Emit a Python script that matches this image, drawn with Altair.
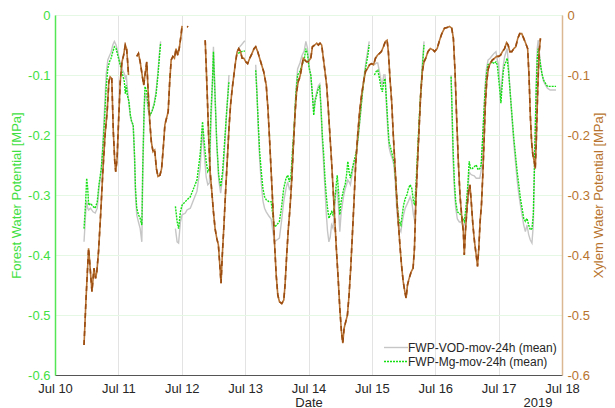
import altair as alt
import pandas as pd

# ---------------- data ----------------
# Forest water potential (FWP) segments: time in days of July 2019
fwp_t = [
    [10.458,10.484,10.5,10.516,10.531,10.56,10.6,10.635,10.667,10.693,10.73,10.755,10.78,10.807,10.833,10.86,10.885,10.912,10.937,10.964,10.99,11.016,11.042,11.068,11.094,11.11,11.125,11.14,11.167,11.19,11.21,11.234,11.255,11.27,11.29,11.317,11.344,11.37,11.385,11.406,11.42,11.448,11.474,11.5,11.53,11.563,11.594,11.625,11.65,11.667],
    [11.9,11.927,11.95,11.979,12.005,12.057,12.083,12.135,12.187,12.24,12.29,12.328,12.354,12.385,12.411,12.437,12.458,12.484,12.5,12.526,12.552,12.583,12.614,12.645,12.677,12.708,12.745],
    [12.89,12.94,12.995],
    [13.167,13.187,13.208,13.229,13.255,13.281,13.307,13.333,13.375,13.411,13.437,13.463,13.5,13.541,13.573,13.609,13.646,13.672,13.698,13.724,13.75,13.776,13.8,13.828,13.865,13.896,13.932,13.958,13.984,14.01,14.036,14.062,14.083,14.104,14.13,14.156,14.177,14.198,14.218,14.24,14.26,14.28,14.3,14.322,14.343,14.364,14.385,14.406,14.432,14.453,14.474,14.494,14.515,14.536,14.557,14.578,14.6,14.62,14.64,14.661,14.682,14.703,14.729,14.755,14.78,14.807,14.833,14.859,14.885,14.91,14.937,14.958],
    [15.04,15.068,15.093,15.12,15.146,15.166,15.187,15.208,15.229,15.25,15.27,15.297,15.322,15.348,15.37,15.39,15.41,15.432,15.458,15.479,15.5,15.526,15.552,15.578,15.604,15.63,15.656,15.677,15.698,15.724,15.75,15.776,15.8,15.823],
    [16.25,16.266,16.281,16.302,16.323,16.349,16.38,16.406,16.432,16.458,16.484,16.51,16.536,16.557,16.583,16.615,16.646,16.677,16.703,16.724,16.745,16.766,16.786,16.807,16.833,16.865,16.896,16.927,16.958,16.979,17.0,17.021,17.036,17.052,17.073,17.094,17.115,17.135,17.156,17.177,17.198,17.219,17.24,17.266,17.292,17.318,17.344,17.37,17.396,17.422,17.448,17.474,17.5,17.526,17.547,17.562,17.578,17.594,17.61,17.625,17.64,17.66,17.682,17.708,17.74,17.77,17.812,17.865,17.906],
]
# FWP-Mg-mov-24h (mean)
fwp_mg = [
    [-0.356,-0.311,-0.272,-0.289,-0.317,-0.314,-0.319,-0.322,-0.311,-0.283,-0.256,-0.222,-0.178,-0.122,-0.089,-0.078,-0.072,-0.061,-0.053,-0.056,-0.067,-0.078,-0.089,-0.1,-0.111,-0.131,-0.117,-0.133,-0.144,-0.167,-0.178,-0.183,-0.233,-0.289,-0.322,-0.333,-0.339,-0.35,-0.25,-0.156,-0.119,-0.128,-0.156,-0.167,-0.161,-0.15,-0.133,-0.1,-0.067,-0.047],
    [-0.319,-0.344,-0.356,-0.328,-0.317,-0.311,-0.308,-0.303,-0.289,-0.275,-0.233,-0.178,-0.211,-0.244,-0.261,-0.256,-0.167,-0.111,-0.061,-0.139,-0.211,-0.267,-0.286,-0.261,-0.211,-0.161,-0.111],
    [-0.064,-0.061,-0.06],
    [-0.092,-0.133,-0.183,-0.228,-0.261,-0.289,-0.303,-0.308,-0.311,-0.311,-0.333,-0.353,-0.35,-0.344,-0.322,-0.289,-0.272,-0.267,-0.278,-0.267,-0.222,-0.183,-0.133,-0.1,-0.094,-0.083,-0.075,-0.056,-0.065,-0.089,-0.1,-0.133,-0.167,-0.144,-0.133,-0.122,-0.119,-0.156,-0.2,-0.233,-0.272,-0.3,-0.322,-0.339,-0.333,-0.328,-0.333,-0.317,-0.289,-0.267,-0.294,-0.333,-0.311,-0.3,-0.289,-0.283,-0.267,-0.244,-0.261,-0.272,-0.261,-0.25,-0.239,-0.228,-0.206,-0.178,-0.15,-0.122,-0.1,-0.083,-0.067,-0.05],
    [-0.1,-0.094,-0.092,-0.106,-0.122,-0.128,-0.111,-0.106,-0.139,-0.178,-0.211,-0.222,-0.233,-0.244,-0.267,-0.3,-0.328,-0.344,-0.35,-0.333,-0.317,-0.306,-0.3,-0.289,-0.283,-0.289,-0.311,-0.317,-0.278,-0.222,-0.167,-0.122,-0.083,-0.05],
    [-0.103,-0.161,-0.222,-0.278,-0.311,-0.328,-0.331,-0.333,-0.339,-0.344,-0.322,-0.289,-0.244,-0.256,-0.256,-0.253,-0.25,-0.258,-0.256,-0.25,-0.211,-0.167,-0.128,-0.1,-0.083,-0.081,-0.078,-0.081,-0.078,-0.083,-0.106,-0.128,-0.147,-0.122,-0.094,-0.083,-0.078,-0.072,-0.094,-0.122,-0.15,-0.178,-0.206,-0.233,-0.261,-0.283,-0.306,-0.322,-0.339,-0.344,-0.339,-0.35,-0.358,-0.356,-0.333,-0.267,-0.194,-0.122,-0.072,-0.056,-0.067,-0.083,-0.097,-0.108,-0.114,-0.119,-0.119,-0.119,-0.119],
]
# FWP-VOD-mov-24h (mean)
fwp_vod = [
    [-0.378,-0.33,-0.31,-0.322,-0.325,-0.322,-0.328,-0.33,-0.322,-0.29,-0.26,-0.215,-0.16,-0.1,-0.075,-0.068,-0.062,-0.05,-0.044,-0.05,-0.062,-0.075,-0.085,-0.092,-0.098,-0.105,-0.1,-0.12,-0.15,-0.17,-0.178,-0.185,-0.24,-0.3,-0.333,-0.345,-0.356,-0.378,-0.27,-0.165,-0.13,-0.14,-0.16,-0.165,-0.16,-0.148,-0.128,-0.095,-0.06,-0.044],
    [-0.356,-0.378,-0.38,-0.345,-0.333,-0.33,-0.325,-0.322,-0.308,-0.294,-0.255,-0.19,-0.23,-0.27,-0.283,-0.28,-0.19,-0.12,-0.053,-0.13,-0.215,-0.275,-0.297,-0.27,-0.22,-0.165,-0.1],
    [-0.056,-0.05,-0.043],
    [-0.083,-0.128,-0.19,-0.24,-0.28,-0.31,-0.322,-0.328,-0.335,-0.34,-0.36,-0.378,-0.375,-0.372,-0.345,-0.311,-0.289,-0.278,-0.29,-0.285,-0.235,-0.19,-0.13,-0.09,-0.08,-0.068,-0.06,-0.044,-0.055,-0.085,-0.1,-0.135,-0.161,-0.14,-0.128,-0.118,-0.115,-0.16,-0.21,-0.25,-0.29,-0.33,-0.36,-0.378,-0.37,-0.35,-0.355,-0.335,-0.295,-0.29,-0.32,-0.361,-0.33,-0.315,-0.3,-0.29,-0.283,-0.275,-0.278,-0.283,-0.27,-0.255,-0.245,-0.232,-0.21,-0.18,-0.15,-0.12,-0.095,-0.075,-0.058,-0.044],
    [-0.083,-0.08,-0.08,-0.095,-0.11,-0.117,-0.1,-0.1,-0.15,-0.19,-0.22,-0.232,-0.239,-0.25,-0.28,-0.32,-0.344,-0.355,-0.361,-0.345,-0.333,-0.322,-0.316,-0.31,-0.303,-0.311,-0.333,-0.344,-0.3,-0.24,-0.175,-0.12,-0.075,-0.044],
    [-0.1,-0.17,-0.24,-0.29,-0.322,-0.34,-0.345,-0.345,-0.35,-0.35,-0.33,-0.3,-0.262,-0.265,-0.267,-0.268,-0.272,-0.272,-0.272,-0.26,-0.215,-0.165,-0.12,-0.09,-0.075,-0.072,-0.068,-0.064,-0.061,-0.075,-0.083,-0.12,-0.139,-0.11,-0.085,-0.07,-0.062,-0.056,-0.085,-0.12,-0.155,-0.185,-0.215,-0.245,-0.275,-0.298,-0.317,-0.333,-0.35,-0.361,-0.35,-0.366,-0.375,-0.38,-0.35,-0.275,-0.19,-0.11,-0.055,-0.042,-0.06,-0.08,-0.098,-0.11,-0.117,-0.122,-0.125,-0.125,-0.125],
]
# Xylem water potential segments
xyl_t = [
    [10.458,10.49,10.53,10.547,10.583,10.615,10.64,10.66,10.687,10.72,10.755,10.79,10.823,10.85,10.87,10.896,10.92,10.943,10.958,10.98,11.005,11.03,11.057,11.083,11.109,11.13,11.146,11.16],
    [11.29,11.317,11.344,11.375,11.4,11.42,11.448,11.47,11.495,11.52,11.547,11.573,11.6,11.625,11.656,11.682,11.708,11.734,11.76,11.786,11.81,11.833,11.86,11.885,11.91,11.937,11.96,11.99,12.005],
    [12.085,12.1],
    [12.37,12.385,12.406,12.427,12.448,12.474,12.5,12.526,12.552,12.578,12.604,12.62,12.64,12.666,12.692,12.72,12.745,12.77,12.797,12.823,12.849,12.875,12.9,12.927,12.953,12.979,13.01,13.04,13.073,13.109,13.14,13.167,13.198,13.229,13.26,13.292,13.333,13.36,13.385,13.411,13.437,13.463,13.49,13.516,13.542,13.578,13.61,13.63,13.656,13.682,13.708,13.734,13.76,13.786,13.812,13.838,13.865,13.89,13.917,13.943,13.968,
     13.995,14.036,14.062,14.1,14.13,14.156,14.182,14.208,14.234,14.26,14.286,14.312,14.338,14.364,14.39,14.416,14.442,14.468,14.494,14.52,14.541,14.562,14.588,14.614,14.64,14.666,14.692,14.718,14.744,14.776,14.807,14.838,14.87,14.9,14.932,14.963,14.995,15.026,15.057,15.088,15.12,15.15,15.182,15.213,15.24,15.26,15.286,15.312,15.338,15.364,15.39,15.416,15.442,15.468,15.494,15.52,15.54,15.562,15.588,15.62,15.65,15.672,15.692,15.718,15.745,15.77,15.797,15.823,15.85,15.885,15.922,15.963,
     15.99,16.03,16.068,16.104,16.146,16.187,16.224,16.26,16.286,16.312,16.338,16.364,16.39,16.416,16.443,16.458,16.479,16.505,16.526,16.547,16.568,16.594,16.62,16.646,16.667,16.687,16.708,16.729,16.75,16.77,16.79,16.812,16.838,16.865,16.9,16.937,16.97,17.0,17.03,17.06,17.094,17.125,17.15,17.177,17.208,17.24,17.27,17.302,17.333,17.365,17.396,17.427,17.458,17.479,17.5,17.52,17.54,17.562,17.578,17.594,17.61,17.625,17.64,17.66],
]
xyl_v = [
    [-0.55,-0.472,-0.389,-0.411,-0.461,-0.422,-0.439,-0.428,-0.394,-0.333,-0.261,-0.2,-0.161,-0.111,-0.103,-0.106,-0.194,-0.244,-0.261,-0.239,-0.172,-0.111,-0.078,-0.067,-0.05,-0.056,-0.078,-0.1],
    [-0.069,-0.064,-0.078,-0.1,-0.117,-0.1,-0.078,-0.128,-0.178,-0.211,-0.228,-0.225,-0.256,-0.269,-0.267,-0.256,-0.222,-0.183,-0.172,-0.161,-0.111,-0.075,-0.069,-0.072,-0.056,-0.067,-0.056,-0.033,-0.018],
    [-0.019,-0.02],
    [-0.042,-0.083,-0.144,-0.211,-0.261,-0.294,-0.328,-0.356,-0.372,-0.383,-0.422,-0.447,-0.4,-0.35,-0.294,-0.239,-0.189,-0.15,-0.122,-0.1,-0.078,-0.061,-0.056,-0.061,-0.072,-0.072,-0.078,-0.081,-0.072,-0.064,-0.056,-0.053,-0.061,-0.072,-0.083,-0.094,-0.117,-0.156,-0.206,-0.261,-0.317,-0.378,-0.433,-0.467,-0.478,-0.481,-0.475,-0.45,-0.4,-0.356,-0.322,-0.278,-0.222,-0.167,-0.128,-0.111,-0.103,-0.089,-0.072,-0.075,-0.078,
     -0.078,-0.072,-0.053,-0.05,-0.047,-0.05,-0.047,-0.05,-0.072,-0.094,-0.117,-0.156,-0.2,-0.244,-0.294,-0.344,-0.394,-0.439,-0.489,-0.528,-0.547,-0.522,-0.511,-0.5,-0.467,-0.422,-0.367,-0.311,-0.25,-0.2,-0.161,-0.133,-0.111,-0.094,-0.089,-0.083,-0.081,-0.083,-0.072,-0.067,-0.064,-0.061,-0.053,-0.044,-0.042,-0.061,-0.106,-0.144,-0.2,-0.25,-0.3,-0.344,-0.383,-0.417,-0.444,-0.461,-0.472,-0.45,-0.439,-0.428,-0.422,-0.389,-0.317,-0.25,-0.189,-0.133,-0.094,-0.078,-0.072,-0.061,-0.056,-0.058,
     -0.061,-0.056,-0.042,-0.031,-0.022,-0.021,-0.019,-0.022,-0.039,-0.094,-0.172,-0.244,-0.3,-0.333,-0.361,-0.4,-0.356,-0.317,-0.294,-0.283,-0.311,-0.35,-0.378,-0.4,-0.419,-0.389,-0.344,-0.317,-0.267,-0.211,-0.15,-0.111,-0.089,-0.081,-0.075,-0.072,-0.069,-0.069,-0.067,-0.061,-0.056,-0.046,-0.05,-0.061,-0.061,-0.056,-0.053,-0.039,-0.031,-0.031,-0.039,-0.047,-0.056,-0.1,-0.167,-0.211,-0.233,-0.244,-0.256,-0.211,-0.15,-0.1,-0.061,-0.039],
]
x_ticks = [10, 11, 12, 13, 14, 15, 16, 17, 18]
y_ticks = [-0.6, -0.5, -0.4, -0.3, -0.2, -0.1, 0.0]
legend_labels = ["FWP-VOD-mov-24h (mean)", "FWP-Mg-mov-24h (mean)"]
year_label = "2019"

# ---------------- tables ----------------
rows = []
for s, (ts, ms, vs) in enumerate(zip(fwp_t, fwp_mg, fwp_vod)):
    for t, m, v in zip(ts, ms, vs):
        rows.append({"t": t, "mg": m, "vod": v, "seg": s})
fwp = pd.DataFrame(rows)

xrows = []
for s, (ts, vs) in enumerate(zip(xyl_t, xyl_v)):
    for t, v in zip(ts, vs):
        xrows.append({"t": t, "xyl": v, "seg": s})
xyl = pd.DataFrame(xrows)

FONT = "Liberation Sans"
TXT = "#262626"
GREEN_AX = "#3fe03f"
BROWN_AX = "#b8742e"

xscale = alt.Scale(domain=[10, 18], nice=False, zero=False)
xaxis = alt.Axis(values=x_ticks, labelExpr="'Jul ' + datum.value", title="Date",
                 grid=True, gridColor="#e3e3e3", domainColor="#555555", ticks=False,
                 labelPadding=7, labelFlush=False, labelColor=TXT, titleColor=TXT,
                 labelFontSize=13, titleFontSize=13, titleFontWeight="normal",
                 titlePadding=1, labelFont=FONT, titleFont=FONT)
ylab = "datum.value == 0 ? '0' : '-' + format(-datum.value, '.1f')"
yscale = alt.Scale(domain=[-0.6, 0], nice=False, zero=False)
yaxis_left = alt.Axis(values=y_ticks, labelExpr=ylab, orient="left",
                      title="Forest Water Potential [MPa]", grid=True, gridColor="#e4f8e4",
                      domainColor="#55e655", domainWidth=1.5, ticks=False, labelPadding=5,
                      labelColor=GREEN_AX, titleColor=GREEN_AX, labelFontSize=13,
                      titleFontSize=13, titleFontWeight="normal", titlePadding=4,
                      labelFont=FONT, titleFont=FONT)
yaxis_right = alt.Axis(values=y_ticks, labelExpr=ylab, orient="right",
                       title="Xylem Water Potential [MPa]", grid=False,
                       domainColor="#dcb892", domainWidth=1.5, ticks=False, labelPadding=5,
                       labelColor=BROWN_AX, titleColor=BROWN_AX, labelFontSize=13,
                       titleFontSize=13, titleFontWeight="normal", titlePadding=3,
                       titleAngle=270, titleBaseline="top",
                       labelFont=FONT, titleFont=FONT)

gray = alt.Chart(fwp).mark_line(color="#c6c6c6", strokeWidth=1.4).encode(
    x=alt.X("t:Q", scale=xscale, axis=xaxis),
    y=alt.Y("vod:Q", scale=yscale, axis=yaxis_left),
    detail="seg:N", order="t:Q")
green = alt.Chart(fwp).mark_line(color="#14e014", strokeWidth=1.4, strokeDash=[2, 1]).encode(
    x=alt.X("t:Q", scale=xscale, axis=xaxis),
    y=alt.Y("mg:Q", scale=yscale, axis=yaxis_left),
    detail="seg:N", order="t:Q")
left = alt.layer(gray, green)

brown_solid = alt.Chart(xyl).mark_line(color="#b87435", strokeWidth=1.6).encode(
    x=alt.X("t:Q", scale=xscale, axis=xaxis),
    y=alt.Y("xyl:Q", scale=yscale, axis=yaxis_right),
    detail="seg:N", order="t:Q")
brown_dash = alt.Chart(xyl).mark_line(color="#9a4c10", strokeWidth=1.6, strokeDash=[5, 4]).encode(
    x=alt.X("t:Q", scale=xscale, axis=xaxis),
    y=alt.Y("xyl:Q", scale=yscale, axis=yaxis_right),
    detail="seg:N", order="t:Q")
right = alt.layer(brown_solid, brown_dash)

leg0 = pd.DataFrame({"label": [legend_labels[0]]})
leg1 = pd.DataFrame({"label": [legend_labels[1]]})
lg_gray = alt.Chart(leg0).mark_rule(color="#c6c6c6", strokeWidth=1.4).encode(
    x=alt.value(329), x2=alt.value(353), y=alt.value(332.5))
lg_gray_t = alt.Chart(leg0).mark_text(align="left", baseline="middle", fontSize=12,
                                      font=FONT, color=TXT).encode(
    x=alt.value(353), y=alt.value(332.5), text="label:N")
lg_green = alt.Chart(leg1).mark_rule(color="#14e014", strokeWidth=1.4, strokeDash=[2, 1]).encode(
    x=alt.value(329), x2=alt.value(353), y=alt.value(346.5))
lg_green_t = alt.Chart(leg1).mark_text(align="left", baseline="middle", fontSize=12,
                                       font=FONT, color=TXT).encode(
    x=alt.value(353), y=alt.value(346.5), text="label:N")
yr = alt.Chart(pd.DataFrame({"label": [year_label]})).mark_text(
    align="center", baseline="middle", fontSize=13, font=FONT, color=TXT).encode(
    x=alt.value(483), y=alt.value(387.5), text="label:N")

chart = alt.layer(left, right, lg_gray, lg_gray_t, lg_green, lg_green_t, yr).resolve_scale(
    y="independent"
).properties(
    width=507, height=360,
    padding={"left": 47, "top": 7, "right": 45, "bottom": 33},
    autosize=alt.AutoSizeParams(type="none"),
).configure_view(stroke="#8c8c8c", strokeWidth=1).configure(font=FONT)

chart.save("out.html", embed_options={"renderer": "svg", "actions": False})
